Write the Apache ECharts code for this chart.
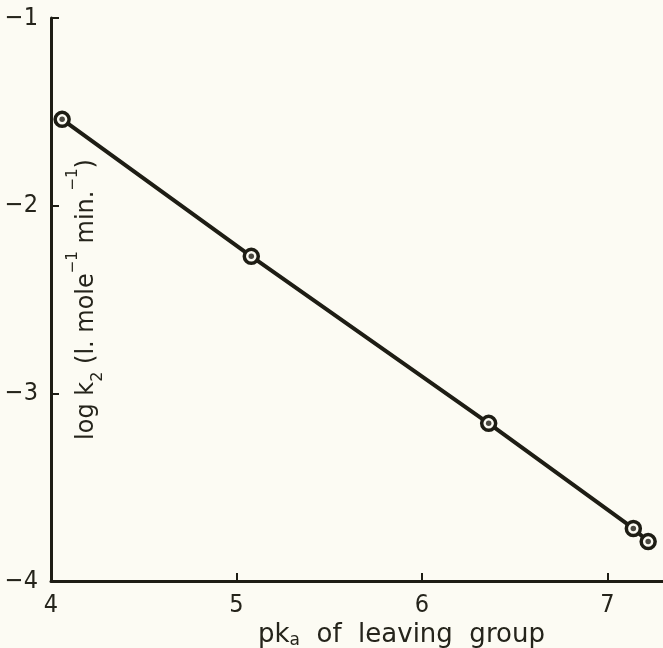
<!DOCTYPE html>
<html>
<head>
<meta charset="utf-8">
<script src="https://cdn.jsdelivr.net/npm/echarts@6/dist/echarts.min.js"></script>
<style>
html,body{margin:0;padding:0;background:#fcfbf3;}
#c{width:663px;height:648px;}
</style>
</head>
<body>
<div id="c"></div>
<script>
// Data
const pka = [4.06, 5.08, 6.36, 7.14, 7.22];
const logK2 = [-1.54, -2.27, -3.16, -3.72, -3.79];
const xTicks = [4, 5, 6, 7];
const yTicks = [-4, -3, -2, -1];

const ink = '#1e1d14';
const txt = '#25241b';
const tickFont = '"Liberation Sans Narrow", "DejaVu Sans Condensed", sans-serif';
const nameFont = '"DejaVu Sans", sans-serif';

const pts = pka.map((x, i) => [x, logK2[i]]);

const chart = echarts.init(document.getElementById('c'), null, {renderer: 'canvas'});
chart.setOption({
  backgroundColor: '#fcfbf3',
  animation: false,
  grid: {left: 51, right: -5, top: 18, bottom: 67, containLabel: false},
  xAxis: {
    type: 'value', min: 4, max: 7.3, interval: 1,
    axisLine: {show: true, onZero: false, lineStyle: {color: ink, width: 3}},
    axisTick: {show: true, inside: true, length: 8, lineStyle: {color: ink, width: 2}},
    axisLabel: {color: txt, fontFamily: tickFont, fontSize: 25, margin: 12,
      showMaxLabel: false,
      formatter: v => xTicks.includes(v) ? String(v) : ''},
    splitLine: {show: false}
  },
  yAxis: {
    type: 'value', min: -4, max: -1, interval: 1,
    axisLine: {show: true, onZero: false, lineStyle: {color: ink, width: 3}},
    axisTick: {show: true, inside: true, length: 8, lineStyle: {color: ink, width: 2}},
    axisLabel: {color: txt, fontFamily: tickFont, fontSize: 25, margin: 13,
      formatter: v => yTicks.includes(v) ? String(v).replace('-', '\u2212') : ''},
    splitLine: {show: false},
    name: 'log k{sub|2} (l. mole{sup|\u22121} min.{sup|\u22121})',
    nameLocation: 'middle',
    nameRotate: 90,
    nameGap: -48,
    nameTextStyle: {
      color: txt, fontFamily: nameFont, fontSize: 24,
      rich: {
        sub: {fontSize: 16, verticalAlign: 'bottom', padding: [0, 0, -7, 0], color: txt, fontFamily: nameFont},
        sup: {fontSize: 15, verticalAlign: 'top', padding: [-9, 0, 0, 0], color: txt, fontFamily: nameFont}
      }
    }
  },
  graphic: [{
    type: 'text', left: 258, top: 622,
    style: {
      text: 'pk{sub|a}  of  leaving  group',
      fill: txt, font: '26px "DejaVu Sans"',
      rich: {sub: {fontSize: 17, fill: txt, fontFamily: nameFont, padding: [12, 0, 0, 0]}}
    }
  }],
  series: [{
    type: 'line', data: pts, symbol: 'circle', symbolSize: 14,
    lineStyle: {color: ink, width: 4},
    itemStyle: {color: '#fcfbf3', borderColor: ink, borderWidth: 3.5},
    z: 2
  }, {
    type: 'scatter', data: pts, symbol: 'circle', symbolSize: 5.5,
    itemStyle: {color: ink}, z: 3
  }]
});
</script>
</body>
</html>
